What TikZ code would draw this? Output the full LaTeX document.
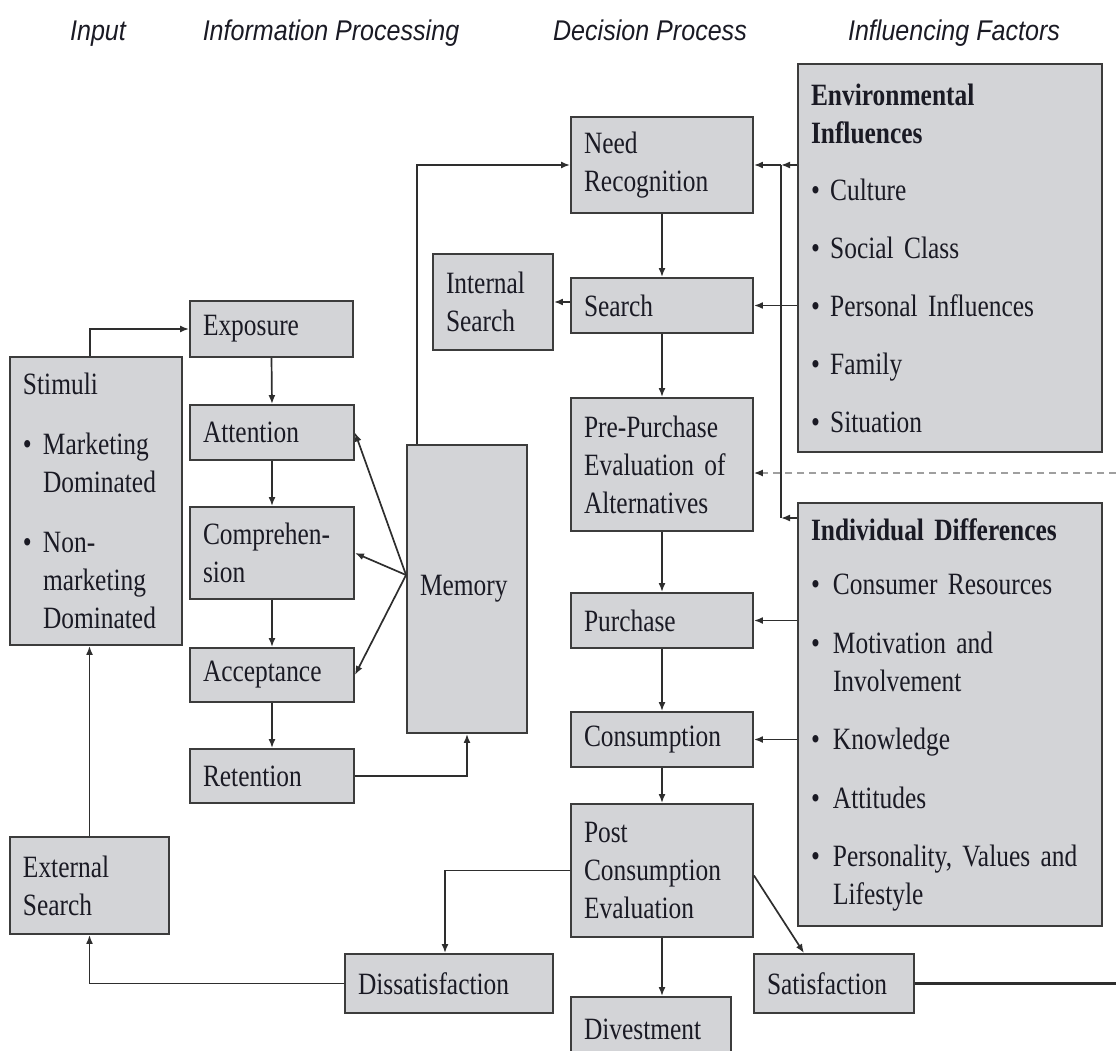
\documentclass[tikz,border=0pt]{standalone}
\usepackage{fontspec}
\setmainfont{Liberation Serif}[FakeStretch=0.82]
\newfontfamily\headfont{Liberation Sans}[FakeStretch=0.88]
\usetikzlibrary{arrows.meta}

\definecolor{boxfill}{HTML}{D3D4D7}
\definecolor{boxline}{HTML}{3C3C3C}
\definecolor{ink}{HTML}{1A1A24}
\definecolor{wire}{HTML}{2E2E2E}

\tikzset{
  box/.style={draw=boxline, line width=1.9pt, fill=boxfill, text=ink,
    inner xsep=13pt, inner ysep=4pt, align=left,
    font=\fontsize{31}{38}\selectfont},
  arr/.style={draw=wire, line width=1.7pt, -{Latex[length=9pt,width=7pt,color=wire]}},
  wireline/.style={draw=wire, line width=1.7pt},
  hdr/.style={font=\headfont\itshape\fontsize{28.5}{30}\selectfont, text=ink, anchor=base},
}
\newcommand\bul[1]{\makebox[#1][l]{•}}

\begin{document}
\begin{tikzpicture}[x=1pt, y=-1pt]
\useasboundingbox (0,0) rectangle (1116,1051);
\clip (0,0) rectangle (1116,1051);

% column headings
\node[hdr] (hInput) at (98,41) {Input};
\node[hdr] (hInfo) at (331,41) {Information Processing};
\node[hdr] (hDec) at (650,41) {Decision Process};
\node[hdr] (hInf) at (954,41) {Influencing Factors};

% input column
\node[box, minimum width=172pt, minimum height=288pt, text width=146pt] (stim) at (96,501)
  {Stimuli\\[22pt]
   \bul{20pt}Marketing\\
   \hspace*{20pt}Dominated\\[22pt]
   \bul{20pt}Non-\\
   \hspace*{20pt}marketing\\
   \hspace*{20pt}Dominated};
\node[box, minimum width=159pt, minimum height=97pt, text width=133pt] (ext) at (89.5,885.5)
  {External\\Search};

% information processing column
\node[box, minimum width=163pt, minimum height=56pt, text width=137pt] (expo) at (271.5,329) {Exposure};
\node[box, minimum width=164pt, minimum height=55pt, text width=138pt] (att) at (272,432.5) {Attention};
\node[box, minimum width=164pt, minimum height=92pt, text width=138pt] (comp) at (272,553) {Comprehen-\\sion};
\node[box, minimum width=164pt, minimum height=54pt, text width=138pt] (acc) at (272,675) {Acceptance};
\node[box, minimum width=164pt, minimum height=54pt, text width=138pt] (ret) at (272,776) {Retention};
\node[box, minimum width=120pt, minimum height=288pt, text width=94pt] (mem) at (467,589) {Memory};
\node[box, minimum width=120pt, minimum height=96pt, text width=94pt] (isrch) at (493,302) {Internal\\Search};
\node[box, minimum width=208pt, minimum height=59pt, text width=182pt] (dis) at (449,983.5) {Dissatisfaction};

% decision process column
\node[box, minimum width=182pt, minimum height=96pt, text width=156pt] (need) at (662,165) {Need\\Recognition};
\node[box, minimum width=182pt, minimum height=55pt, text width=156pt] (srch) at (662,305.5) {Search};
\node[box, minimum width=182pt, minimum height=133pt, text width=156pt] (pre) at (662,464.5) {Pre-Purchase\\Evaluation of\\Alternatives};
\node[box, minimum width=182pt, minimum height=55pt, text width=156pt] (purch) at (662,620.5) {Purchase};
\node[box, minimum width=182pt, minimum height=55pt, text width=156pt] (cons) at (662,739.5) {Consumption};
\node[box, minimum width=182pt, minimum height=133pt, text width=156pt] (post) at (662,870.5) {Post\\Consumption\\Evaluation};
\node[box, minimum width=160pt, minimum height=64pt, text width=134pt] (div) at (651,1029) {Divestment};
\node[box, minimum width=160pt, minimum height=59pt, text width=134pt] (sat) at (834,983.5) {Satisfaction};

% influencing factors column
\node[box, minimum width=304pt, minimum height=388pt, text width=278pt] (env) at (950,258)
  {\textbf{Environmental}\\
   \textbf{Influences}\\[19pt]
   • Culture\\[20pt]
   • Social Class\\[20pt]
   • Personal Influences\\[20pt]
   • Family\\[20pt]
   • Situation};
\node[box, minimum width=304pt, minimum height=423pt, text width=278pt] (ind) at (950,714.5)
  {\textbf{Individual Differences}\\[16pt]
   \bul{22pt}Consumer Resources\\[21pt]
   \bul{22pt}Motivation and\\
   \hspace*{22pt}Involvement\\[20pt]
   \bul{22pt}Knowledge\\[21pt]
   \bul{22pt}Attitudes\\[20pt]
   \bul{22pt}Personality, Values and\\
   \hspace*{22pt}Lifestyle};

% free ends and junctions
\coordinate (busT) at (781,165);
\coordinate (busB) at (781,518);
\coordinate (dashR) at (1116,473);
\coordinate (satR) at (1116,983.5);

% input and information processing flow
\draw[arr] ([xshift=-6pt]stim.north) |- (expo.west);
\draw[arr] (expo.south) -- (att.north);
\draw[arr] (att.south) -- (comp.north);
\draw[arr] (comp.south) -- (acc.north);
\draw[arr] (acc.south) -- (ret.north);
\draw[arr] ([yshift=14pt]mem.west) -- (att.east);
\draw[arr] ([yshift=14pt]mem.west) -- (comp.east);
\draw[arr] ([yshift=14pt]mem.west) -- (acc.east);
\draw[arr] (ret.east) -| (mem.south);
\draw[arr] ([xshift=-50pt]mem.north) |- (need.west);

% decision process flow
\draw[arr] (need.south) -- (srch.north);
\draw[arr] (srch.west |- isrch.east) -- (isrch.east);
\draw[arr] (srch.south) -- (pre.north);
\draw[arr] (pre.south) -- (purch.north);
\draw[arr] (purch.south) -- (cons.north);
\draw[arr] (cons.south) -- (post.north);
\draw[arr] (post.south) -- (post.south |- div.north);
\draw[arr] (post.west) -| ([xshift=-4pt]dis.north);
\draw[arr] ([yshift=-5pt]post.east) -- ([xshift=-30pt]sat.north);
\draw[arr] (dis.west) -| (ext.south);
\draw[arr] (ext.north) -- (ext.north |- stim.south);
\draw[draw=wire, line width=3pt] (sat.east) -- (satR);

% influencing factors
\draw[wireline] (busT) -- (busB);
\draw[arr] (env.west |- busT) -- (busT);
\draw[arr] (busT) -- (need.east |- busT);
\draw[arr] (ind.west |- busB) -- (busB);
\draw[arr] (env.west |- srch.east) -- (srch.east);
\draw[arr, draw=gray!75, dash pattern=on 7pt off 5pt, line width=1.3pt] (dashR) -- (pre.east |- dashR);
\draw[arr] (ind.west |- purch.east) -- (purch.east);
\draw[arr] (ind.west |- cons.east) -- (cons.east);
\end{tikzpicture}
\end{document}
